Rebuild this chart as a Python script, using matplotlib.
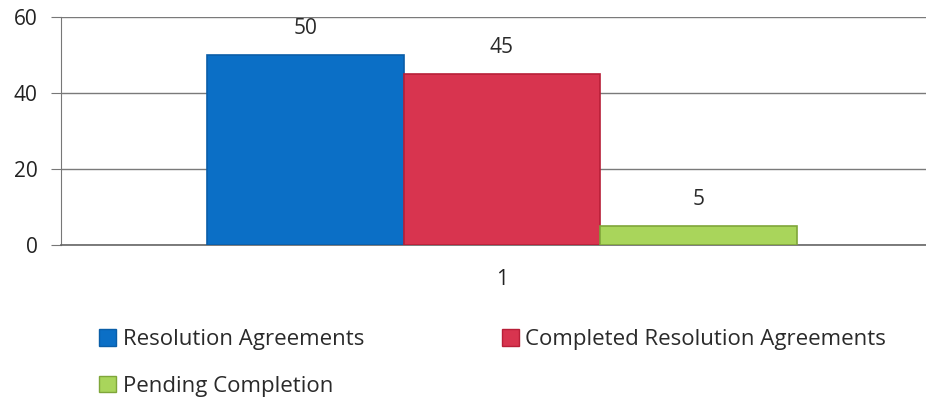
import matplotlib
matplotlib.use("Agg")
import matplotlib.pyplot as plt
from matplotlib.patches import Patch

categories = ["1"]
series_names = ["Resolution Agreements", "Completed Resolution Agreements", "Pending Completion"]
values = [50, 45, 5]
colors = ["#0B6FC6", "#D8344F", "#A9D55B"]
edges = ["#0A5EA8", "#B81F38", "#7FA63A"]

plt.rcParams['font.family'] = ['Open Sans', 'DejaVu Sans']

fig = plt.figure(figsize=(9.26, 3.99), dpi=100)
ax = fig.add_axes([61/926, (399-245)/399, (926-61)/926, 228/399])

offsets = [-1, 0, 1]
for off, v, c, e, name in zip(offsets, values, colors, edges, series_names):
    ax.bar(0 + off, v, width=1.0, color=c, edgecolor=e, linewidth=1.2, label=name, zorder=3)
    ax.annotate(str(v), (0 + off, v), xytext=(0, 19), textcoords='offset points',
                ha='center', va='center', fontsize=15, color='#2a2a2a')

ax.set_ylim(0, 60)
ax.set_yticks([0, 20, 40, 60])
ax.set_xlim(-2.244, 2.158)
ax.set_xticks([0])
ax.set_xticklabels(categories)
ax.yaxis.grid(True, color='#7a7a7a', linewidth=1.0, zorder=0)
for s in ['top', 'right']:
    ax.spines[s].set_visible(False)
ax.spines['left'].set_color('#777777')
ax.spines['bottom'].set_color('#666666')
ax.spines['bottom'].set_linewidth(1.2)
ax.tick_params(axis='y', length=7, color='#777777', labelsize=15, labelcolor='#222222', pad=10)
ax.tick_params(axis='x', length=0, labelsize=15, labelcolor='#222222', pad=17)

handles = [Patch(facecolor=colors[i], edgecolor=edges[i]) for i in range(3)]
order = [0, 2, 1]
fig.legend([handles[i] for i in order], [series_names[i] for i in order],
           ncol=2, loc='upper left', bbox_to_anchor=(79/926, 1 - 309/399),
           frameon=False, fontsize=16, handlelength=0.78, handleheight=0.78,
           handletextpad=0.28, columnspacing=6.2, labelspacing=1.15, labelcolor='#2a2a2a')

fig.savefig("out.png", dpi=100, facecolor='white')
